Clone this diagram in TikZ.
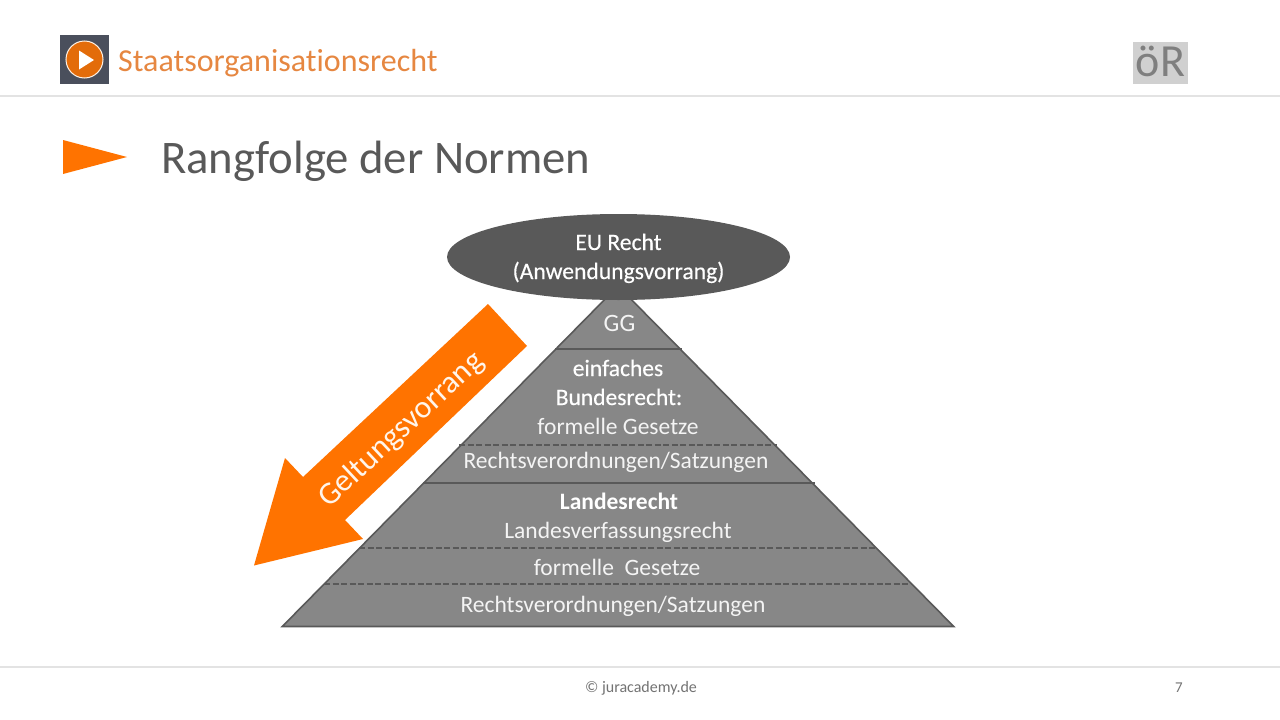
\documentclass[tikz,border=0pt]{standalone}
\usepackage{fontspec}
\setmainfont[Ligatures=NoCommon]{Carlito}
\newfontfamily\semib[FakeBold=0.35,Ligatures=NoCommon]{Carlito}
\usetikzlibrary{shapes.geometric}
\definecolor{pyr}{HTML}{878787}
\definecolor{edge}{HTML}{595959}
\definecolor{orng}{HTML}{FF7300}
\definecolor{rule}{HTML}{E3E3E3}
\definecolor{softw}{HTML}{F4F4F4}
\newcommand{\fsz}[1]{\fontsize{#1}{#1}\selectfont}
\tikzset{
  x=1pt,y=-1pt,
  lbl/.style={text=softw,inner sep=0pt,anchor=base,font=\fsz{23.5}},
  lblb/.style={lbl,text=white,font=\semib\fsz{23.5}},
  divider/.style={draw=edge,line width=1.6pt},
  dashdiv/.style={draw=edge,line width=1.3pt,dash pattern=on 6pt off 2.5pt},
  hrule/.style={draw=rule,line width=1.5pt}
}
\begin{document}
\begin{tikzpicture}
\useasboundingbox (0,0) rectangle (1280,720);
\fill[white] (0,0) rectangle (1280,720);
% header and footer rules
\coordinate (h1) at (0,96); \coordinate (h2) at (1280,96);
\coordinate (f1) at (0,667); \coordinate (f2) at (1280,667);
\draw[hrule] (h1) -- (h2);
\draw[hrule] (f1) -- (f2);
% icon
\node[draw=none,minimum width=49pt,minimum height=49pt,inner sep=0pt,fill={rgb,255:red,74;green,79;blue,92}] (icon) at (84.5,59.5) {};
\node[circle,fill={rgb,255:red,227;green,108;blue,10},draw=white!90!orange,line width=1pt,minimum size=37pt,inner sep=0pt] (iconc) at (84.5,59.5) {};
\fill[white] (79,50.5) -- (94,60) -- (79,69.5) -- cycle;
\node[anchor=base west,inner sep=0pt,text={rgb,255:red,230;green,135;blue,65},font=\fsz{32}] (head) at (118,71) {Staatsorganisationsrecht};
% oeR
\node[fill={rgb,255:red,208;green,208;blue,208},minimum width=55pt,minimum height=42pt,inner sep=0pt] (orbox) at (1160.5,63) {};
\node[anchor=base,inner sep=0pt,text={rgb,255:red,127;green,127;blue,127},font=\fsz{46}] (ortxt) at (1160.5,76) {öR};
% title
\fill[orng] (63,140) -- (127,157) -- (63,174) -- cycle;
\node[anchor=base west,inner sep=0pt,text={rgb,255:red,89;green,89;blue,89},font=\fsz{46.7}] (title) at (161,173) {Rangfolge der Normen};
% pyramid
\coordinate (apex) at (618,286);
\coordinate (bl) at (282.3,626.5);
\coordinate (br) at (953.7,626.5);
\draw[fill=pyr,draw=edge,line width=1.6pt,line join=miter] (apex) -- (br) -- (bl) -- cycle;
\coordinate (a1) at (555,349); \coordinate (a2) at (682,349);
\coordinate (b1) at (459,445); \coordinate (b2) at (777,445);
\coordinate (c1) at (423,483); \coordinate (c2) at (815,483);
\coordinate (d1) at (359,548); \coordinate (d2) at (877,548);
\coordinate (e1) at (324,584); \coordinate (e2) at (911,584);
\draw[divider] (a1) -- (a2);
\draw[divider] (c1) -- (c2);
\draw[dashdiv] (b1) -- (b2);
\draw[dashdiv] (d1) -- (d2);
\draw[dashdiv] (e1) -- (e2);
% ellipse
\node[ellipse,fill=edge,minimum width=343pt,minimum height=86pt,inner sep=0pt] (eu) at (618.5,257) {};
\node[lblb,font=\semib\fsz{23.6}] (eu1) at (618.5,250) {EU Recht};
\node[lblb,font=\semib\fsz{23.6}] (eu2) at (618.5,279) {(Anwendungsvorrang)};
% labels
\node[lbl,font=\fsz{25}] (gg) at (619.5,331) {GG};
\node[lblb] (ein) at (618,376) {einfaches};
\node[lblb] (bund) at (619,405) {Bundesrecht:};
\node[lbl] (form) at (618,434) {formelle Gesetze};
\node[lbl] (rv1) at (616,468) {Rechtsverordnungen/Satzungen};
\node[lblb,font=\fsz{23.5}\bfseries] (land) at (619,509) {Landesrecht};
\node[lbl] (lvr) at (618,538) {Landesverfassungsrecht};
\node[lbl] (form2) at (617,575) {formelle\ \ Gesetze};
\node[lbl] (rv2) at (613,612) {Rechtsverordnungen/Satzungen};
% arrow
\fill[orng] (488,304) -- (527,346) -- (345,520) -- (363,539) -- (254,565.5) -- (285,458) -- (303,477) -- cycle;
\node[inner sep=0pt,text=white!92!orange,font=\fsz{31.7},rotate=43] (gv) at (401.5,430) {Geltungsvorrang};
% footer
\node[inner sep=0pt,anchor=base,text={rgb,255:red,115;green,115;blue,115},font=\fsz{16}] (copy) at (641,692) {© juracademy.de};
\node[inner sep=0pt,anchor=base,text={rgb,255:red,115;green,115;blue,115},font=\fsz{15}] (pg) at (1179,692) {7};
\end{tikzpicture}
\end{document}
